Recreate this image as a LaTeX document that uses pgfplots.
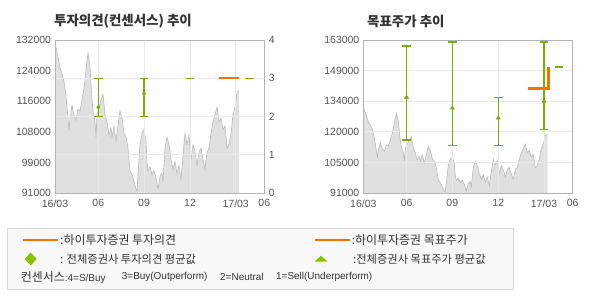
\documentclass[border=0pt]{standalone}
\usepackage{pgfplots}
\pgfplotsset{compat=1.18}
\usepackage{pgfplotstable}
\usepackage{fontspec}
\setmainfont{Liberation Sans}
\newfontfamily\kr{Noto Sans CJK KR}
\definecolor{axgray}{HTML}{B4B4B4}
\definecolor{gridgray}{HTML}{E9E9E9}
\definecolor{areafill}{HTML}{E0E0E0}
\definecolor{arealine}{HTML}{B9B9B9}
\definecolor{hiorange}{HTML}{F47300}
\definecolor{avggreen}{HTML}{74B200}
\definecolor{diagreen}{HTML}{86C300}
\definecolor{labgray}{HTML}{555555}
\definecolor{titlegray}{HTML}{333333}
\definecolor{legfill}{HTML}{F8F8F8}
\definecolor{legborder}{HTML}{D8D8D8}

\pgfplotstableread{
day price
0 131500
2 130000
6 127500
10 124500
14 123000
18 121000
22 117000
24 114000
28 108000
30 111000
34 114500
38 112000
42 110500
46 113500
50 113000
54 116000
58 119000
62 124000
66 128500
70 125000
72 120000
74 116000
76 113000
80 110000
82 106000
84 112000
88 114000
92 116000
96 117500
100 112000
104 110000
108 106500
112 108500
114 106000
118 109000
122 105000
126 109000
130 113000
134 111000
138 107000
142 106000
146 103000
150 97000
154 96000
158 94000
162 92000
164 91500
166 96000
170 104000
174 107000
178 108000
182 105000
184 99000
186 97000
190 98000
194 96000
198 97000
202 95000
206 92000
210 95500
214 96500
216 94000
220 103000
224 106000
228 104000
232 100000
236 97500
240 99500
244 96000
248 98500
252 94500
256 101000
260 107000
264 104000
268 106500
272 100000
276 104000
280 102000
284 98500
288 102000
292 103000
296 100000
300 97500
304 102000
308 103000
312 107000
316 110000
320 112000
324 114000
328 110000
332 111000
336 108000
340 109000
344 103000
348 104000
352 107000
356 112000
360 114000
364 118000
368 118500
}\pricetab

\pgfplotsset{
  base/.style={
    scale only axis, width=209.3bp, height=153bp,
    xmin=0, xmax=418.6,
    axis line style={axgray},
    tick style={draw=none},
    scaled ticks=false,
    ticklabel style={font=\fontsize{10.5}{12}\selectfont, text=labgray},
    /pgf/number format/assume math mode=true,
    xtick={0,86.6,178,270,361.4,418.6},
    grid style={gridgray, line width=0.8bp},
    anchor=south west,
  },
  pricearea/.style={base, xticklabels={16/03,06,09,12,17/03,06},
    xticklabel style={yshift=-3bp}},
  overlay/.style={base, xticklabels={}},
  ebar/.style={color=avggreen, draw=avggreen, fill=avggreen, line width=1.4bp, only marks,
    error bars/y dir=both, error bars/y explicit,
    error bars/error bar style={line width=1.4bp, draw=avggreen, solid},
    error bars/error mark options={rotate=90, mark size=4.2bp, line width=1.3bp, draw=avggreen, solid}},
  capmark/.style={only marks, mark=-, mark size=4.2bp,
    mark options={draw=avggreen, line width=1.3bp, solid}},
}

\begin{document}
\begin{tikzpicture}[x=1bp,y=1bp]
\useasboundingbox (0,0) rectangle (590,300);

% ---------- Left chart: investment opinion ----------
\begin{axis}[pricearea, at={(55bp,107bp)},
  ymin=91000, ymax=132000,
  ytick={91000,99200,107400,115600,123800,132000},
  yticklabels={91000,99000,108000,116000,124000,132000},
  yticklabel style={xshift=-0.5bp}]
\addplot[fill=areafill, draw=none] table[x=day,y=price]{\pricetab} \closedcycle;
\addplot[arealine, line width=0.6bp] table[x=day,y=price]{\pricetab};
\end{axis}
\begin{axis}[overlay, at={(55bp,107bp)},
  ymin=0, ymax=4, ytick={0,1,2,3,4},
  yticklabel pos=right, yticklabel style={xshift=1bp},
  xmajorgrids, ymajorgrids]
\addplot[ebar, mark=diamond*, mark size=2.2bp, mark options={draw=avggreen, fill=avggreen, solid, line width=0.4bp}]
  coordinates {(86.6,2.24) += (0,0.76) -= (0,0.24)
               (178,2.6) += (0,0.4) -= (0,0.6)};
\addplot[capmark] coordinates {(270,3) (389,3)};
\addplot[hiorange, line width=2.2bp] coordinates {(328,3) (368,3)};
\end{axis}

% ---------- Right chart: target price ----------
\begin{axis}[pricearea, at={(363.3bp,107bp)},
  ymin=91000, ymax=163000,
  ytick={91000,105400,119800,134200,148600,163000},
  yticklabels={91000,105000,120000,134000,149000,163000},
  yticklabel style={xshift=-0.5bp}]
\addplot[fill=areafill, draw=none] table[x=day,y=price]{\pricetab} \closedcycle;
\addplot[arealine, line width=0.6bp] table[x=day,y=price]{\pricetab};
\end{axis}
\begin{axis}[overlay, at={(363.3bp,107bp)},
  ymin=91000, ymax=163000,
  ytick={91000,105400,119800,134200,148600,163000},
  yticklabels={},
  xmajorgrids, ymajorgrids]
\addplot[ebar, mark=triangle*, mark size=2.4bp, mark options={draw=avggreen, fill=avggreen, solid, line width=0.4bp}]
  coordinates {(86.6,136000) += (0,24200) -= (0,20000)
               (178,131000) += (0,31000) -= (0,17500)
               (270,126300) += (0,9500) -= (0,12800)
               (361.4,134200) += (0,27800) -= (0,13400)};
\addplot[capmark] coordinates {(391,150300)};
\addplot[hiorange, line width=2.6bp] coordinates {(330,140300) (370,140300) (370,150300)};
\end{axis}

% ---------- Titles ----------
\node[anchor=west, inner sep=0, text=titlegray, font=\kr\bfseries\fontsize{13.5}{15}\selectfont] at (54,279) {투자의견(컨센서스) 추이};
\node[anchor=west, inner sep=0, text=titlegray, font=\kr\bfseries\fontsize{13.5}{15}\selectfont] at (367,279) {목표주가 추이};

% ---------- Legend ----------
\draw[legborder, fill=legfill, line width=0.8bp] (7.3,11) rectangle (513,71.7);
\begin{scope}[every node/.style={anchor=west, inner sep=0, text=titlegray, font=\kr\fontsize{12}{13}\selectfont}]
\draw[hiorange, line width=1.8bp] (22.7,60) -- (58.3,60);
\node at (60,60) {:하이투자증권 투자의견};
\draw[hiorange, line width=1.8bp] (315,60) -- (350,60);
\node at (351.7,60) {:하이투자증권 목표주가};
\fill[diagreen] (30.7,47.5) -- (36.7,41) -- (30.7,34.5) -- (24.7,41) -- cycle;
\node[font=\kr\fontsize{11.3}{13}\selectfont] at (60,41) {: 전체증권사 투자의견 평균값};
\fill[diagreen] (314.5,38.3) -- (327.5,38.3) -- (321,44.3) -- cycle;
\node[font=\kr\fontsize{11.3}{13}\selectfont] at (353,41) {:전체증권사 목표주가 평균값};
\node at (20.7,22.7) {컨센서스{\rmfamily\fontsize{10}{12}\selectfont:4=S/Buy}};
\node[font=\rmfamily\fontsize{10}{12}\selectfont] at (121.7,22.7) {3=Buy(Outperform)};
\node[font=\rmfamily\fontsize{10}{12}\selectfont] at (220,22.7) {2=Neutral};
\node[font=\rmfamily\fontsize{10}{12}\selectfont] at (276,22.7) {1=Sell(Underperform)};
\end{scope}
\end{tikzpicture}
\end{document}
